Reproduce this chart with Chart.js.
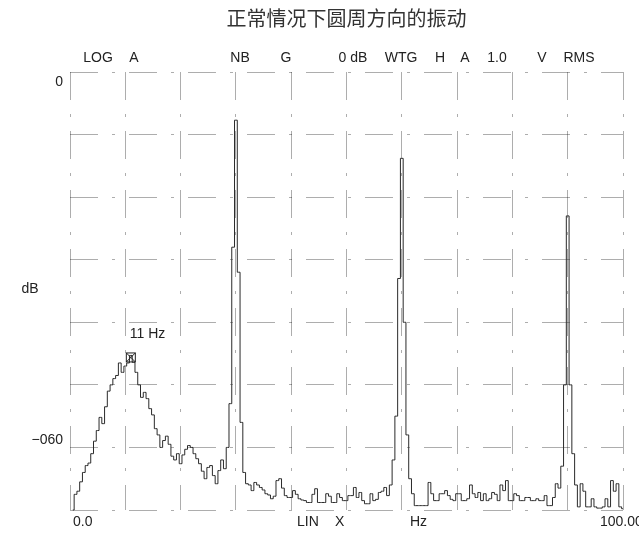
<!DOCTYPE html>
<html lang="zh">
  <head>
    <meta charset="UTF-8" />
    <meta name="viewport" content="width=device-width, initial-scale=1.0" />
    <title>正常情况下圆周方向的振动</title>
    <script src="https://cdn.jsdelivr.net/npm/chart.js@4.4.0/dist/chart.umd.min.js"></script>
    <style>
      html, body { margin: 0; padding: 0; background: #fff; }
      #wrap { width: 639px; height: 534px; }
    </style>
  </head>
  <body>
    <div id="wrap"><canvas id="chart"></canvas></div>
    <script>
      // spectrum, one value per 0.5 Hz bin (dB)
      const binWidthHz = 0.5
      const band0to25 = [
        -70, -67.5, -67, -65.5, -64, -62.9, -62.5, -61, -59, -57.3,
        -55.2, -56.2, -53.5, -51, -50, -49, -48.5, -46.5, -48, -47,
        -46.5, -45.3, -46.4, -48, -50, -52, -51.2, -52.2, -53.8, -54.8,
        -57, -58, -60, -58.9, -58.2, -59.5, -61.4, -62, -61, -62.6,
        -61.2, -60.3, -59.7, -60, -61, -61.8, -62.6, -63.8, -65, -63.2,
      ]
      const band25to50 = [
        -62.9, -64.5, -65.8, -63.7, -62, -63.4, -60, -53, -28, -7.7,
        -32, -56, -64, -65.8, -66, -66.9, -65.6, -66, -66.4, -66.8,
        -67.4, -67.6, -68.2, -67.8, -65.3, -65, -66.5, -67.7, -68, -68,
        -66.9, -67.5, -68.2, -68.4, -68.5, -68.8, -68.8, -67.5, -66.6, -68.8,
        -68.8, -68.8, -67.4, -67.8, -68.8, -68.8, -67.4, -68, -68.5, -68.5,
      ]
      const band50to75 = [
        -67.7, -67.7, -66.4, -68, -67.2, -68.5, -69, -69, -67.4, -68.5,
        -68.3, -67.2, -67, -66.4, -67.7, -66, -62, -55, -33, -13.8,
        -40, -58, -65, -67.4, -69.3, -69.3, -69.3, -69.3, -69.3, -65.6,
        -67.4, -68.5, -68.5, -67.4, -67.4, -66.9, -67.7, -68.3, -68.5, -67.4,
        -67.4, -68.5, -68.5, -68.2, -66, -67.4, -68, -67.2, -68.5, -67.4,
      ]
      const band75to100 = [
        -68.5, -68.2, -67.2, -67.5, -68.5, -66, -66.9, -65.3, -68.5, -68.5,
        -67.4, -67.7, -68.5, -68.5, -68, -68, -68.5, -68.5, -68.2, -68.5,
        -68.5, -67.7, -69.3, -69.3, -68, -65.8, -66.5, -63, -50, -23,
        -50, -61, -66, -69.5, -65.8, -67, -69.5, -69.5, -68.2, -69.5,
        -69.7, -69.7, -69.5, -68.2, -69.5, -65.3, -67, -65.8, -69.5, -69.8,
      ]

      const markerHz = 11
      const markerDb = -45.3
      const markerText = '11 Hz'

      const headerLabels = ['LOG', 'A', 'NB', 'G', '0 dB', 'WTG', 'H', 'A', '1.0', 'V', 'RMS']
      const footerLabels = ['0.0', 'LIN', 'X', 'Hz', '100.00']
      const yTickLabels = { 0: '0', '-60': '\u2212060' }

      const levels = band0to25.concat(band25to50, band50to75, band75to100)
      const points = levels.map((db, i) => ({ x: (i + 1) * binWidthHz, y: db }))

      const textFont = '14px "Liberation Sans", Arial, sans-serif'

      // analyser screen annotations
      const overlay = {
        id: 'overlay',
        afterDraw(chart) {
          const { ctx } = chart
          const xs = chart.scales.x
          const ys = chart.scales.y
          ctx.save()
          ctx.fillStyle = '#222'
          ctx.font = textFont
          ctx.textBaseline = 'middle'
          ctx.textAlign = 'center'

          const headX = [98, 134, 240, 286, 353, 401, 440, 465, 497, 542, 579]
          headerLabels.forEach((t, i) => ctx.fillText(t, headX[i], 58))

          ctx.textAlign = 'left'
          const footX = [73, 297, 335, 410, 600]
          footerLabels.forEach((t, i) => ctx.fillText(t, footX[i], 522))

          ctx.textAlign = 'right'
          Object.keys(yTickLabels).forEach((v) => {
            const y = ys.getPixelForValue(Number(v))
            const shift = Number(v) === 0 ? 10 : -7
            ctx.fillText(yTickLabels[v], 63, y + shift)
          })

          ctx.textAlign = 'center'
          ctx.fillText('dB', 30, 289)

          // marker box with cross
          const mx = xs.getPixelForValue(markerHz)
          const my = ys.getPixelForValue(markerDb)
          ctx.strokeStyle = '#222'
          ctx.lineWidth = 1
          ctx.strokeRect(mx - 4.5, my - 2.5, 9, 9)
          ctx.beginPath()
          ctx.moveTo(mx - 4.5, my - 2.5)
          ctx.lineTo(mx + 4.5, my + 6.5)
          ctx.moveTo(mx + 4.5, my - 2.5)
          ctx.lineTo(mx - 4.5, my + 6.5)
          ctx.stroke()
          ctx.textAlign = 'left'
          ctx.fillText(markerText, mx - 1, my - 21)
          ctx.restore()
        },
      }

      const ctx = document.getElementById('chart').getContext('2d')
      const myChart = new Chart(ctx, {
        type: 'line',
        data: {
          datasets: [
            {
              label: 'spectrum',
              data: points,
              stepped: 'middle',
              borderColor: '#2a2a2a',
              borderWidth: 1,
              pointRadius: 0,
              fill: false,
              clip: false,
            },
          ],
        },
        options: {
          responsive: true,
          maintainAspectRatio: false,
          animation: false,
          layout: { padding: { left: 70, right: 16, bottom: 24, top: 0 } },
          plugins: {
            legend: { display: false },
            tooltip: { enabled: false },
            title: {
              display: true,
              text: '正常情况下圆周方向的振动',
              color: '#333',
              font: { family: '"Noto Sans CJK SC", sans-serif', size: 20, weight: 'normal' },
              padding: { top: 6, bottom: 42 },
            },
          },
          scales: {
            x: {
              type: 'linear',
              min: 0,
              max: 100,
              ticks: { display: false, stepSize: 10 },
              grid: { color: 'rgba(0,0,0,0.32)', drawTicks: false },
              border: { display: false, dash: [28, 14, 3, 14] },
            },
            y: {
              min: -70,
              max: 0,
              ticks: { display: false, stepSize: 10 },
              grid: { color: 'rgba(0,0,0,0.32)', drawTicks: false },
              border: { display: false, dash: [28, 14, 3, 14] },
            },
          },
        },
        plugins: [overlay],
      })
    </script>
  </body>
</html>
